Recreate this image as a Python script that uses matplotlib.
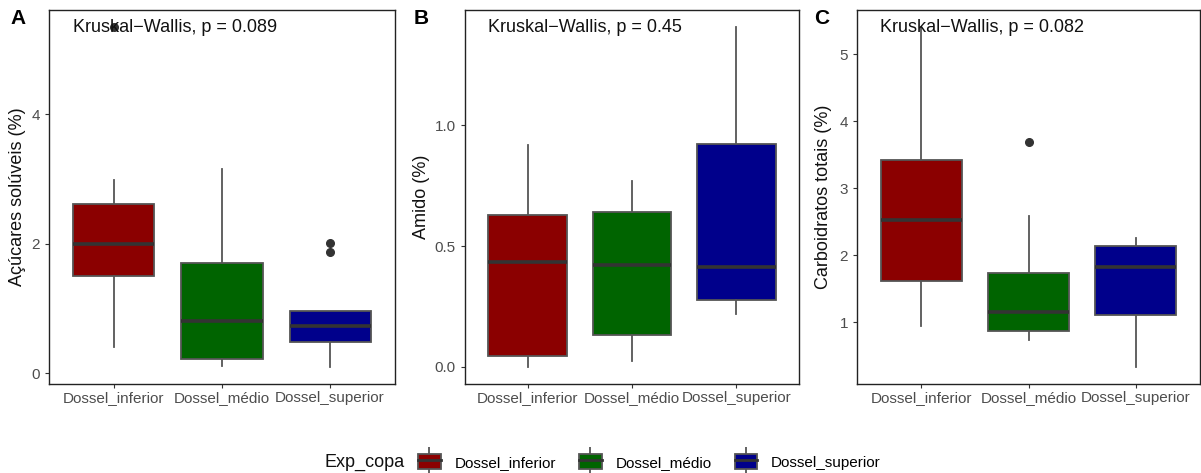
import matplotlib
matplotlib.use("Agg")
import matplotlib.pyplot as plt
from matplotlib.patches import Patch
from matplotlib.lines import Line2D
from matplotlib.legend_handler import HandlerTuple

plt.rcParams['font.family'] = ['Liberation Sans', 'DejaVu Sans']

groups = ["Dossel_inferior", "Dossel_médio", "Dossel_superior"]
colors = ["#8B0000", "#006400", "#00008B"]

# Panel A: Açúcares solúveis (%)
a_whislo = [0.41, 0.12, 0.10]
a_q1 = [1.51, 0.22, 0.48]
a_med = [2.00, 0.81, 0.73]
a_q3 = [2.61, 1.70, 0.96]
a_whishi = [2.99, 3.16, 0.96]
a_fliers = [[5.35], [], [2.01, 1.87]]

# Panel B: Amido (%)
b_whislo = [0.00, 0.024, 0.218]
b_q1 = [0.044, 0.134, 0.276]
b_med = [0.434, 0.420, 0.414]
b_q3 = [0.629, 0.641, 0.923]
b_whishi = [0.916, 0.770, 1.405]
b_fliers = [[], [], []]

# Panel C: Carboidratos totais (%)
c_whislo = [0.95, 0.74, 0.33]
c_q1 = [1.61, 0.865, 1.10]
c_med = [2.52, 1.15, 1.82]
c_q3 = [3.42, 1.73, 2.14]
c_whishi = [5.41, 2.58, 2.26]
c_fliers = [[], [3.69], []]

panels = [
    ("A", "Açúcares solúveis (%)", "Kruskal\u2212Wallis, p = 0.089",
     a_whislo, a_q1, a_med, a_q3, a_whishi, a_fliers, [0, 2, 4], ["0", "2", "4"]),
    ("B", "Amido (%)", "Kruskal\u2212Wallis, p = 0.45",
     b_whislo, b_q1, b_med, b_q3, b_whishi, b_fliers, [0.0, 0.5, 1.0], ["0.0", "0.5", "1.0"]),
    ("C", "Carboidratos totais (%)", "Kruskal\u2212Wallis, p = 0.082",
     c_whislo, c_q1, c_med, c_q3, c_whishi, c_fliers, [1, 2, 3, 4, 5], ["1", "2", "3", "4", "5"]),
]

W, H = 1201, 473
fig = plt.figure(figsize=(W / 100, H / 100), dpi=100)

boxes_px = [(49, 395), (465, 799), (857, 1200)]
top_px, bot_px = 10, 384
ylab_x = [18, 421, 824]
letter_x = [18, 421, 822]
text_x = [73, 488, 880]

edge = "#555555"
medc = "#333333"
tickc = "#4D4D4D"

for i, (letter, ylabel, kw, wlo, q1, med, q3, whi, fl, yt, ytl) in enumerate(panels):
    l, r = boxes_px[i]
    ax = fig.add_axes([l / W, 1 - bot_px / H, (r - l) / W, (bot_px - top_px) / H])
    stats = []
    for j in range(3):
        stats.append(dict(whislo=wlo[j], q1=q1[j], med=med[j], q3=q3[j],
                          whishi=whi[j], fliers=fl[j], label=groups[j]))
    bp = ax.bxp(stats, positions=[1, 2, 3], widths=0.75, patch_artist=True,
                showcaps=False,
                boxprops=dict(edgecolor=edge, linewidth=1.3),
                whiskerprops=dict(color=edge, linewidth=1.3),
                medianprops=dict(color=medc, linewidth=2.6),
                flierprops=dict(marker="o", markerfacecolor=medc, markeredgecolor=medc,
                                markersize=5.5, linestyle="none"))
    for patch, c in zip(bp["boxes"], colors):
        patch.set_facecolor(c)
    # ggplot-like expansion
    allv = wlo + whi + [v for f in fl for v in f]
    lo, hi = min(allv), max(allv)
    pad = (hi - lo) * 0.05
    ax.set_ylim(lo - pad, hi + pad)
    ax.set_xlim(0.4, 3.6)
    ax.set_yticks(yt)
    ax.set_yticklabels(ytl)
    ax.set_xticks([1, 2, 3])
    ax.set_xticklabels(groups)
    ax.tick_params(axis="both", colors="#333333", labelcolor=tickc, labelsize=11,
                   length=3, width=0.8)
    ax.tick_params(axis="x", pad=2)
    for sp in ax.spines.values():
        sp.set_color("#222222")
        sp.set_linewidth(1.0)
    fig.text(ylab_x[i] / W, 1 - ((top_px + bot_px) / 2) / H, ylabel, rotation=90,
             ha="center", va="center", fontsize=13, color="#111111")
    fig.text(letter_x[i] / W, 1 - 19 / H, letter, ha="center", va="center",
             fontsize=15, fontweight="bold")
    fig.text(text_x[i] / W, 1 - 27 / H, kw, ha="left", va="center", fontsize=13,
             color="#111111")

# Legend
handles = []
for c in colors:
    handles.append((Line2D([], [], color=edge, marker="|", markersize=19,
                           linestyle="none", markeredgewidth=1.3),
                    Patch(facecolor=c, edgecolor=edge, linewidth=1.3),
                    Line2D([], [], color=medc, linewidth=2.0)))
fig.text(325 / W, 1 - 462 / H, "Exp_copa", ha="left", va="center", fontsize=13,
         color="#111111")
leg = fig.legend(handles, groups, ncol=3, loc="center left",
                 bbox_to_anchor=(404 / W, 1 - 462 / H), frameon=False,
                 handler_map={tuple: HandlerTuple(ndivide=1)},
                 fontsize=11, handlelength=1.5, handleheight=1.1,
                 handletextpad=0.9, columnspacing=1.5)

fig.savefig("out.png", dpi=100)
